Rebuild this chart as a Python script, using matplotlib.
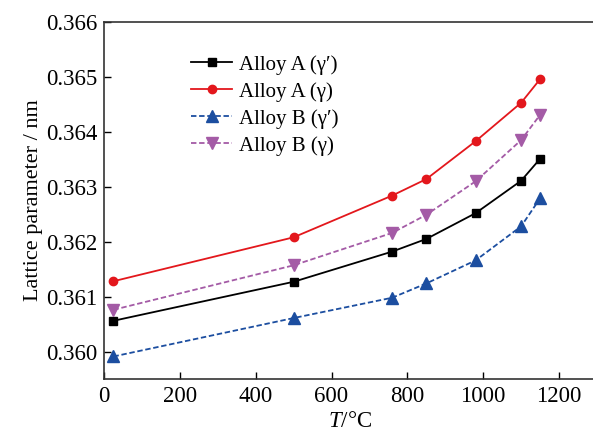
import matplotlib
matplotlib.use('Agg')
import matplotlib.pyplot as plt

# temperatures (deg C)
temps = [25, 500, 760, 850, 980, 1100, 1150]

# lattice parameters (nm)
a_gp = [0.36056, 0.36127, 0.36182, 0.36205, 0.36252, 0.36311, 0.36351]
a_g = [0.36128, 0.36208, 0.36284, 0.36314, 0.36383, 0.36453, 0.36496]
b_gp = [0.35991, 0.36061, 0.36098, 0.36124, 0.36166, 0.36228, 0.36279]
b_g = [0.36076, 0.36157, 0.36216, 0.36249, 0.36310, 0.36385, 0.36431]

labels = ["Alloy A (\u03b3\u2032)", "Alloy A (\u03b3)", "Alloy B (\u03b3\u2032)", "Alloy B (\u03b3)"]

plt.rcParams['font.family'] = ['Liberation Serif', 'DejaVu Serif']
plt.rcParams['mathtext.fontset'] = 'custom'
plt.rcParams['mathtext.it'] = 'Liberation Serif:italic'
plt.rcParams['mathtext.rm'] = 'Liberation Serif'

fig = plt.figure(figsize=(5.93, 4.40), dpi=100)
ax = fig.add_axes([104 / 593, 61 / 440, 493 / 593, 357 / 440])

ax.plot(temps, a_gp, color='black', marker='s', markersize=5.5, lw=1.3, label=labels[0])
ax.plot(temps, a_g, color='#e3171c', marker='o', markersize=6, lw=1.3, label=labels[1])
ax.plot(temps, b_gp, color='#1c4ea0', marker='^', markersize=8, lw=1.3,
        ls=(0, (3, 1.5)), label=labels[2])
ax.plot(temps, b_g, color='#a45ba6', marker='v', markersize=8, lw=1.3,
        ls=(0, (3, 1.5)), label=labels[3])

ax.set_xlim(0, 1300)
ax.set_ylim(0.3595, 0.366)
ax.set_xticks([0, 200, 400, 600, 800, 1000, 1200])
ax.set_yticks([0.360, 0.361, 0.362, 0.363, 0.364, 0.365, 0.366])
ax.set_yticklabels(['0.360', '0.361', '0.362', '0.363', '0.364', '0.365', '0.366'])
ax.tick_params(direction='in', length=5, width=1, labelsize=16.5, pad=5)
ax.spines['right'].set_visible(False)
for s in ['left', 'bottom', 'top']:
    ax.spines[s].set_color('#333333')
    ax.spines[s].set_linewidth(1.2)

ax.set_xlabel(r'$T$/°C', fontsize=16.5, labelpad=3)
ax.set_ylabel('Lattice parameter / nm', fontsize=16, labelpad=2)

ax.legend(loc='upper left', bbox_to_anchor=(0.176, 0.908), frameon=False, fontsize=15,
          handlelength=2.0, handletextpad=0.3, labelspacing=0.35,
          borderpad=0, borderaxespad=0)

fig.savefig('out.png', dpi=100)
